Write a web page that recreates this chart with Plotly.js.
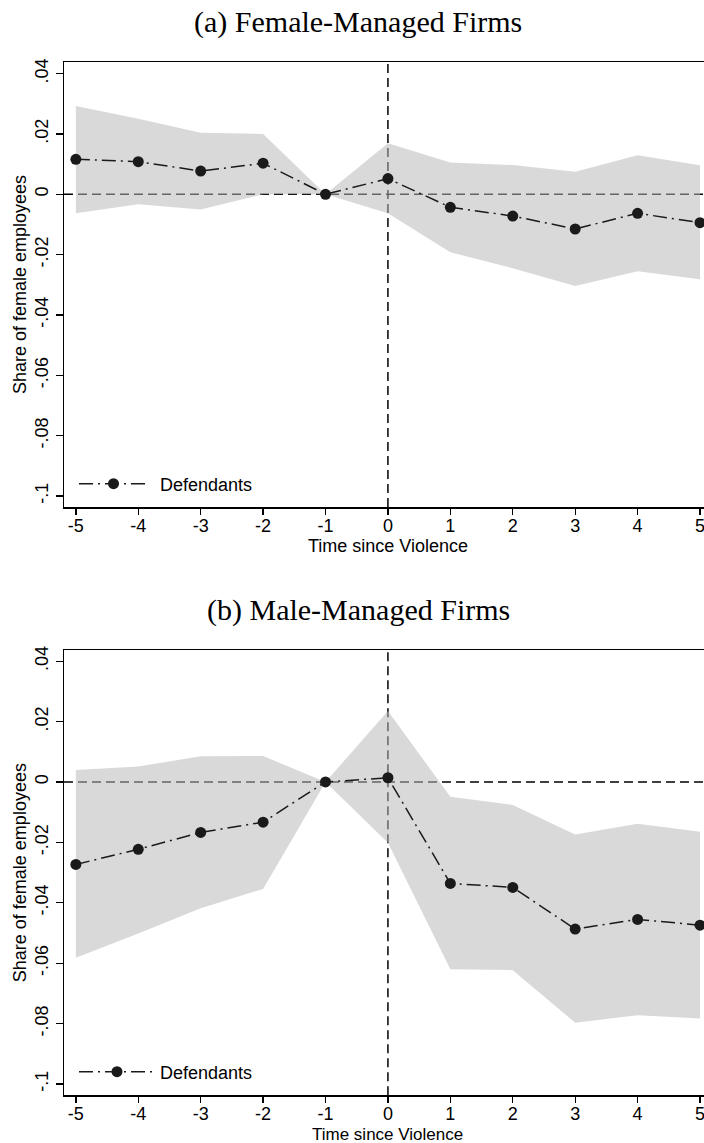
<!DOCTYPE html>
<html>
<head>
<meta charset="utf-8">
<script src="https://cdn.plot.ly/plotly-3.0.1.min.js"></script>
<style>html,body{margin:0;padding:0;background:#fff;}#chart{width:704px;height:1143px;}</style>
</head>
<body>
<div id="chart"></div>
<script>
// ---- data ----
const timeSince = [-5, -4, -3, -2, -1, 0, 1, 2, 3, 4, 5];
const xTickLabels = ['-5', '-4', '-3', '-2', '-1', '0', '1', '2', '3', '4', '5'];
const yTickVals = [-0.1, -0.08, -0.06, -0.04, -0.02, 0, 0.02, 0.04];
const yTickLabels = ['-.1', '-.08', '-.06', '-.04', '-.02', '0', '.02', '.04'];

const femCoef  = [0.0116, 0.0108, 0.0077, 0.0103, 0, 0.0052, -0.0043, -0.0072, -0.0115, -0.0063, -0.0094];
const femUpper = [0.0293, 0.0250, 0.0204, 0.0200, 0, 0.0169, 0.0105, 0.0097, 0.0075, 0.0129, 0.0096];
const femLower = [-0.0063, -0.0033, -0.0050, 0.0000, 0, -0.0063, -0.0192, -0.0245, -0.0304, -0.0255, -0.0282];

const maleCoef  = [-0.0273, -0.0223, -0.0167, -0.0133, 0, 0.0014, -0.0336, -0.0349, -0.0487, -0.0455, -0.0474];
const maleUpper = [0.0040, 0.0051, 0.0085, 0.0086, 0, 0.0235, -0.0049, -0.0076, -0.0174, -0.0138, -0.0165];
const maleLower = [-0.0582, -0.0502, -0.0418, -0.0354, 0, -0.0201, -0.0620, -0.0623, -0.0797, -0.0772, -0.0783];

const panelTitles = ['(a) Female-Managed Firms', '(b) Male-Managed Firms'];
const seriesName = 'Defendants';
const xTitle = 'Time since Violence';
const yTitle = 'Share of female employees';

// ---- helpers ----
const H = 1143;
const py = px => 1 - px / H;          // pixel row -> paper y
const pxX = px => (px - 64) / 640;    // pixel col -> paper x

const bandColor = 'rgba(185,185,185,0.54)';
const ink = '#1a1a1a';

function band(lower, upper, xa, ya) {
  return {
    x: timeSince.concat(timeSince.slice().reverse()),
    y: upper.concat(lower.slice().reverse()),
    xaxis: xa, yaxis: ya,
    type: 'scatter', mode: 'lines', fill: 'toself',
    fillcolor: bandColor, line: {width: 0, color: bandColor},
    hoverinfo: 'skip', showlegend: false
  };
}
function coefLine(coef, xa, ya, lg) {
  return {
    x: timeSince, y: coef, xaxis: xa, yaxis: ya,
    type: 'scatter', mode: 'lines+markers', name: seriesName,
    line: {color: ink, width: 1.5, dash: '14px,5px,2px,5px'},
    marker: {color: ink, size: 11, symbol: 'circle'},
    legend: lg, showlegend: true
  };
}

const data = [
  band(femLower, femUpper, 'x', 'y'),
  coefLine(femCoef, 'x', 'y', 'legend'),
  band(maleLower, maleUpper, 'x2', 'y2'),
  coefLine(maleCoef, 'x2', 'y2', 'legend2')
];

const tickFont = {family: 'Liberation Sans, Arial, sans-serif', size: 18, color: '#000'};

function xAxis(anchor) {
  return {
    anchor: anchor, domain: [0, 1], range: [-5.19, 5.064],
    tickmode: 'array', tickvals: timeSince, ticktext: xTickLabels,
    ticks: 'outside', ticklen: 6, tickwidth: 1.3, tickcolor: '#000',
    ticklabeloverflow: 'allow', ticklabelstandoff: -4,
    showline: true, linecolor: '#000', linewidth: 1.5, mirror: true,
    showgrid: false, zeroline: false, tickfont: tickFont, fixedrange: true
  };
}
function yAxis(anchor, dom, rng) {
  return {
    anchor: anchor, domain: dom, range: rng,
    tickmode: 'array', tickvals: yTickVals, ticktext: yTickLabels, tickangle: -90,
    ticks: 'outside', ticklen: 7, tickwidth: 1.3, tickcolor: '#000',
    showline: true, linecolor: '#000', linewidth: 1.5, mirror: false,
    showgrid: false, zeroline: false, tickfont: tickFont, fixedrange: true,
    title: {text: yTitle, font: {family: 'Liberation Sans, Arial, sans-serif', size: 18, color: '#000'}, standoff: 1}
  };
}

function refLines(xr, yr) {
  return [
    {type: 'line', layer: 'below', xref: xr + ' domain', yref: yr, x0: 0, x1: 1, y0: 0, y1: 0,
     line: {color: '#000', width: 1.5, dash: '9px,5px'}},
    {type: 'line', layer: 'below', xref: xr, yref: yr + ' domain', x0: 0, x1: 0, y0: 0, y1: 1,
     line: {color: '#000', width: 1.5, dash: '9px,5px'}}
  ];
}

const titleFont = {family: 'Liberation Serif, Times New Roman, serif', size: 30, color: '#000'};
const axTitleFont = {family: 'Liberation Sans, Arial, sans-serif', size: 18, color: '#000'};
const axTitleFontLow = {family: 'Liberation Sans, Arial, sans-serif', size: 17, color: '#000'};

const legendBase = {
  xref: 'paper', yref: 'paper', xanchor: 'left', yanchor: 'middle',
  bgcolor: 'rgba(0,0,0,0)', borderwidth: 0, itemwidth: 76,
  font: {family: 'Liberation Sans, Arial, sans-serif', size: 18, color: '#000'}
};

const layout = {
  width: 704, height: 1143,
  margin: {l: 64, r: 0, t: 0, b: 0},
  paper_bgcolor: '#fff', plot_bgcolor: '#fff',
  showlegend: true,
  xaxis: xAxis('y'),
  yaxis: yAxis('x', [py(507), py(62)], [-0.10365, 0.04385]),
  xaxis2: xAxis('y2'),
  yaxis2: yAxis('x2', [py(1095.3), py(650)], [-0.10374, 0.0437]),
  legend: Object.assign({x: pxX(74), y: py(484)}, legendBase),
  legend2: Object.assign({x: pxX(74), y: py(1072)}, legendBase),
  shapes: refLines('x', 'y').concat(refLines('x2', 'y2')),
  annotations: [
    {text: panelTitles[0], xref: 'paper', yref: 'paper', x: pxX(358), y: py(21.5), xanchor: 'center', yanchor: 'middle', showarrow: false, font: titleFont},
    {text: panelTitles[1], xref: 'paper', yref: 'paper', x: pxX(358), y: py(609.5), xanchor: 'center', yanchor: 'middle', showarrow: false, font: titleFont},
    {text: xTitle, xref: 'x', yref: 'paper', x: 0, y: py(546), xanchor: 'center', yanchor: 'middle', showarrow: false, font: axTitleFont},
    {text: xTitle, xref: 'x2', yref: 'paper', x: 0, y: py(1134), xanchor: 'center', yanchor: 'middle', showarrow: false, font: axTitleFontLow}
  ]
};

Plotly.newPlot('chart', data, layout, {displayModeBar: false, staticPlot: true}).then(function (gd) {
  // lengthen legend line sample to match the reference key
  gd.querySelectorAll('.legend .legendlines path').forEach(function (p) {
    p.setAttribute('d', 'M5,0h69');
  });
  gd.querySelectorAll('.legend .legendpoints path').forEach(function (p) {
    p.setAttribute('transform', 'translate(39.5,0)');
  });
});
</script>
</body>
</html>
